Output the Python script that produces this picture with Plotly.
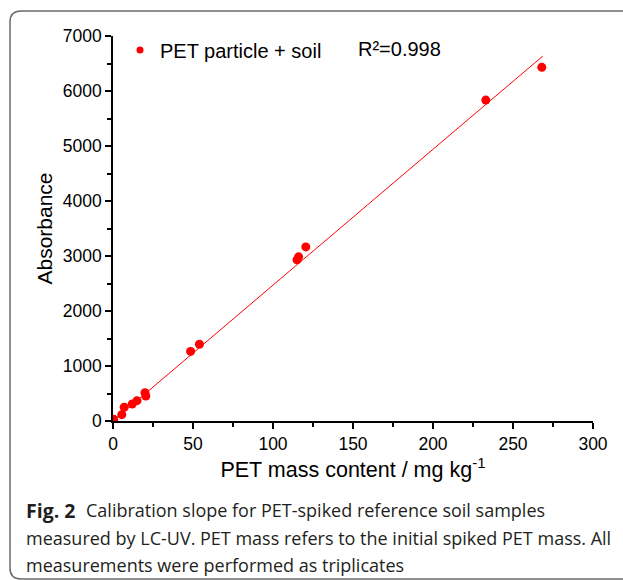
import plotly.graph_objects as go

# Data
pet_mass = [0, 0.5, 5.5, 7, 12, 15, 20, 20.5, 48.5, 54, 115, 116, 120.5, 233, 268]
absorbance = [10, 30, 115, 250, 310, 370, 515, 455, 1265, 1395, 2930, 2985, 3165, 5835, 6430]
fit_x = [0, 268.6]
fit_slope = 24.7
fit_intercept = 0
fit_y = [fit_intercept + fit_slope * v for v in fit_x]

x_ticks = [0, 50, 100, 150, 200, 250, 300]
y_ticks = [0, 1000, 2000, 3000, 4000, 5000, 6000, 7000]

series_name = "PET particle + soil"
r2_text = "R²=0.998"
caption_head = "Fig. 2"
caption_lines = [
    "Calibration slope for PET-spiked reference soil samples",
    "measured by LC-UV. PET mass refers to the initial spiked PET mass. All",
    "measurements were performed as triplicates",
]

W, H = 623, 580
L, R, T, B = 113, 30, 36, 159
pw, ph = W - L - R, H - T - B

def px(x):
    return (x - L) / pw

def py(y):
    return (H - B - y) / ph

ARIAL = "Liberation Sans, Arial, sans-serif"

fig = go.Figure()
fig.add_trace(go.Scatter(x=fit_x, y=fit_y, mode="lines",
                         line=dict(color="#ff0000", width=1), showlegend=False,
                         hoverinfo="skip"))
fig.add_trace(go.Scatter(x=pet_mass, y=absorbance, mode="markers",
                         marker=dict(color="#ff0000", size=9),
                         name=series_name, showlegend=False))
# legend entry with a smaller dot, as in the reference
fig.add_trace(go.Scatter(x=[None], y=[None], mode="markers",
                         marker=dict(color="#ff0000", size=7),
                         name=series_name, showlegend=True))

tickfont = dict(family=ARIAL, size=17.5, color="#000")
fig.update_xaxes(range=[0, 300], tickvals=x_ticks, showgrid=False, zeroline=False,
                 showline=True, linecolor="#000", linewidth=1.5,
                 ticks="outside", ticklen=6, tickwidth=1.5, tickcolor="#000",
                 minor=dict(ticks="outside", ticklen=4, tickwidth=1.5, tickcolor="#000", dtick=25),
                 tickfont=tickfont,
                 title=dict(text="PET mass content / mg kg<sup>-1</sup>",
                            font=dict(family=ARIAL, size=21.5, color="#000"),
                            standoff=8))
fig.update_yaxes(range=[0, 7000], tickvals=y_ticks, showgrid=False, zeroline=False,
                 showline=True, linecolor="#000", linewidth=1.5,
                 ticks="outside", ticklen=6, tickwidth=1.5, tickcolor="#000",
                 minor=dict(ticks="outside", ticklen=4, tickwidth=1.5, tickcolor="#000", dtick=500),
                 tickfont=tickfont,
                 title=dict(text="Absorbance",
                            font=dict(family=ARIAL, size=21, color="#000"),
                            standoff=4))

# Rounded border of the figure panel
path = (f"M {px(623)},{py(11)} L {px(21)},{py(11)} Q {px(10)},{py(11)} {px(10)},{py(22)} "
        f"L {px(10)},{py(568)} Q {px(10)},{py(579)} {px(21)},{py(579)} L {px(623)},{py(579)}")
fig.add_shape(type="path", path=path, xref="paper", yref="paper",
              line=dict(color="#6b6b6b", width=1.5))

fig.add_annotation(x=px(356), y=py(49), xref="paper", yref="paper", xanchor="left", yanchor="middle",
                   text=r2_text, showarrow=False,
                   font=dict(family=ARIAL, size=20, color="#000"))

capcolor = "#231f20"
fig.add_annotation(x=px(24), y=py(510), xref="paper", yref="paper",
                   xanchor="left", yanchor="middle", text=f"<b>{caption_head}</b>", showarrow=False,
                   font=dict(family="Open Sans, sans-serif", size=19.5, color=capcolor))
for i, line in enumerate(caption_lines):
    fig.add_annotation(x=px(84 if i == 0 else 24), y=py(510 + 27.5 * i), xref="paper", yref="paper",
                       xanchor="left", yanchor="middle", text=line, showarrow=False,
                       font=dict(family="Open Sans, sans-serif", size=18, color=capcolor))

fig.update_layout(width=W, height=H, margin=dict(l=L, r=R, t=T, b=B),
                  paper_bgcolor="#fff", plot_bgcolor="#fff",
                  legend=dict(x=px(120), y=py(50), xanchor="left", yanchor="middle",
                              font=dict(family=ARIAL, size=20, color="#000"),
                              bgcolor="rgba(0,0,0,0)"))

fig.write_html("out.html", config={"displayModeBar": False},
               post_script="document.body.style.margin='0';")
